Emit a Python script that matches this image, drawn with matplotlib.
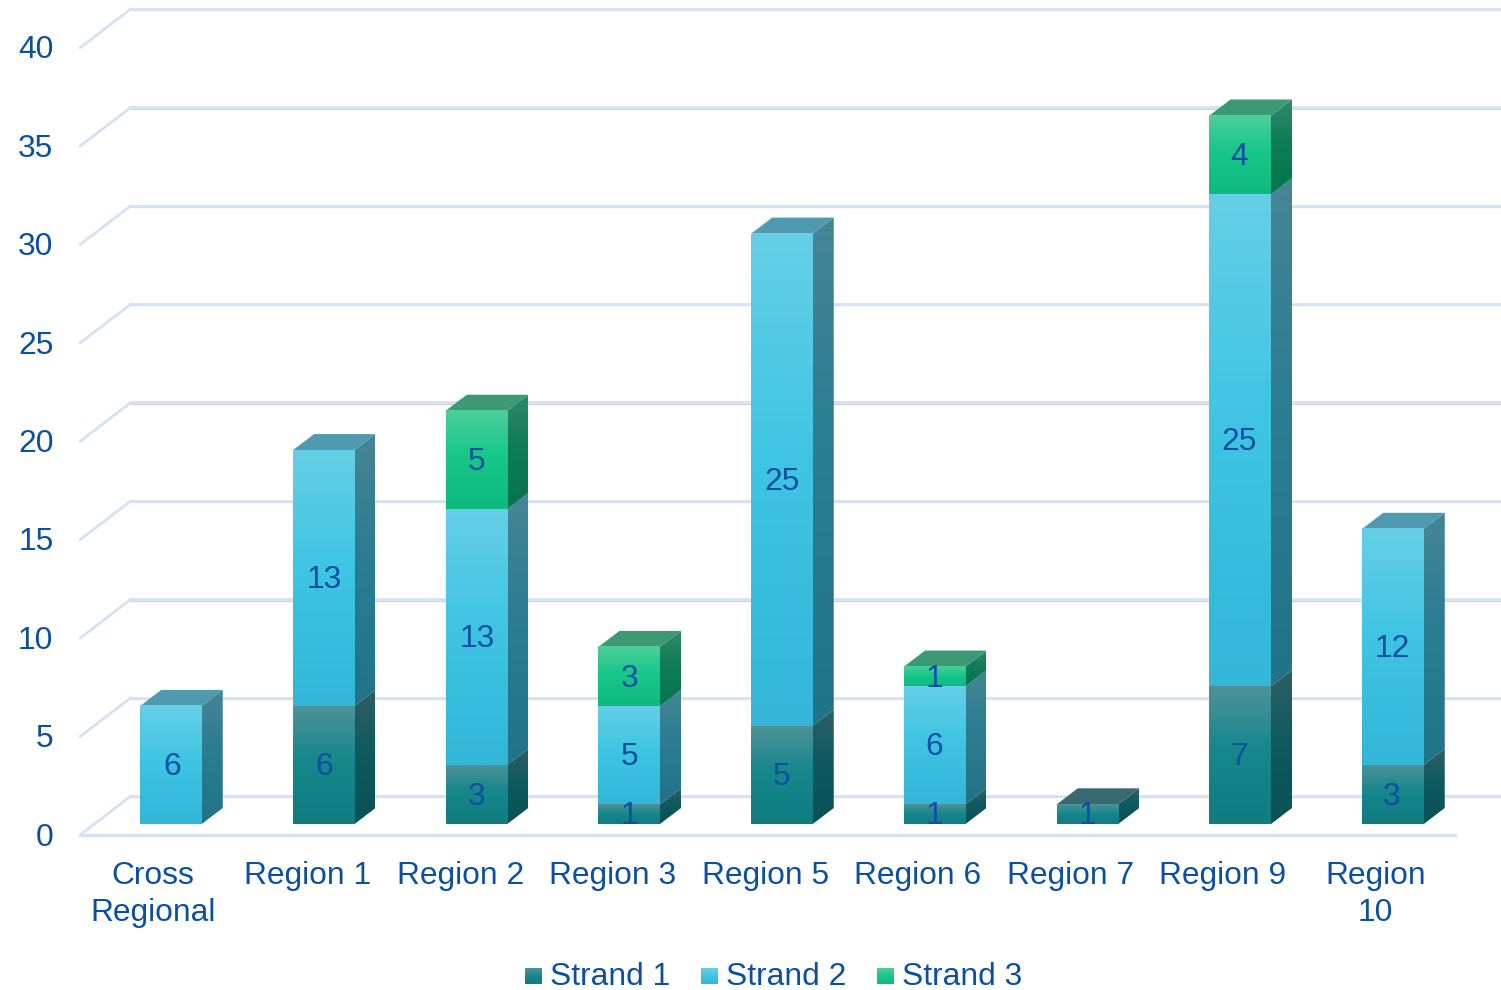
import numpy as np
import matplotlib
matplotlib.use('Agg')
import matplotlib.pyplot as plt
from matplotlib.colors import LinearSegmentedColormap
from matplotlib.patches import Polygon

plt.rcParams['font.family'] = ['Liberation Sans', 'DejaVu Sans']

regions = ['Cross\nRegional', 'Region 1', 'Region 2', 'Region 3', 'Region 5',
           'Region 6', 'Region 7', 'Region 9', 'Region\n10']
strand1 = [0, 6, 3, 1, 5, 1, 1, 7, 3]
strand2 = [6, 13, 13, 5, 25, 6, 0, 25, 12]
strand3 = [0, 0, 5, 3, 0, 1, 0, 4, 0]
names = ['Strand 1', 'Strand 2', 'Strand 3']
yticks = [0, 5, 10, 15, 20, 25, 30, 35, 40]

front_cols = [['#4f9299', '#16888c', '#0f7c80'],
              ['#66cfe7', '#3fc5e3', '#33b6d8'],
              ['#4ccf99', '#18c78a', '#0eb97f']]
side_cols = [['#2f5e64', '#0f5a5f', '#0a5155'],
             ['#468595', '#2b7d92', '#217488'],
             ['#33896a', '#0e7c57', '#06744e']]
top_cols = ['#3a6a70', '#4f9aaf', '#3b9a72']
text_col = '#0b4fa3'
fs = 22.9

W, H = 1501, 990
xstep, ystep = 152.75, 19.68
x0, y0 = 171, 824     # pixel of first bar centre, value 0
fig = plt.figure(figsize=(W / 100, H / 100), dpi=100)
ax = fig.add_axes([0, 0, 1, 1])
ax.axis('off')


def px(x, y):
    return (x - x0) / xstep, (y0 - y) / ystep


bw = 61.5 / xstep
dx, dy = 21 / xstep, 16 / ystep


def grad(cols, box, clip=None, z=3):
    cm = LinearSegmentedColormap.from_list('g', [(0, cols[0]), (0.45, cols[1]), (1, cols[2])])
    im = ax.imshow(np.linspace(0, 1, 256).reshape(-1, 1), cmap=cm, aspect='auto',
                   extent=box, origin='upper', zorder=z, interpolation='bilinear')
    if clip is not None:
        clip.set_transform(ax.transData)
        im.set_clip_path(clip)


# walls and floor
for v in yticks:
    xa, ya = px(80, 835 - ystep * v)
    xb, yb = px(131, 796 - ystep * v)
    xc, yc = px(1501, 796 - ystep * v)
    ax.plot([xa, xb], [ya, yb], color='#d3e3f5', lw=2.0, zorder=1, solid_capstyle='round')
    ax.plot([xb, xc], [yb - 0.07, yc - 0.07], color='#d4d4d4', lw=0.9, zorder=1)
    ax.plot([xb, xc], [yb, yc], color='#d3e3f5', lw=2.0, zorder=1)
    ax.text(px(53.5, 0)[0], px(0, 834 - ystep * v)[1], str(v), ha='right', va='center_baseline',
            fontsize=fs, color=text_col)
xa, ya = px(80, 835)
xb = px(1455, 0)[0]
ax.plot([xa, xb], [ya, ya], color='#d3e3f5', lw=2.4, zorder=1)

# stacked bars
for i in range(len(regions)):
    base = 0
    segs = [strand1[i], strand2[i], strand3[i]]
    last = max(k for k in range(3) if segs[k] > 0)
    for k, v in enumerate(segs):
        if v == 0:
            continue
        l, r = i - bw / 2, i + bw / 2
        t = base + v
        # right side
        side = Polygon([(r, base), (r + dx, base + dy), (r + dx, t + dy), (r, t)], closed=True)
        grad(side_cols[k], (r, r + dx, base, t + dy), side)
        if k == last:
            ax.add_patch(Polygon([(l, t), (r, t), (r + dx, t + dy), (l + dx, t + dy)],
                                 closed=True, fc=top_cols[k], ec='none', zorder=3))
        # front
        grad(front_cols[k], (l, r, base, t), z=4)
        ax.text(px(172 + 152.5 * i, 0)[0], base + v / 2 + 0.07, str(v), ha='center', va='center_baseline',
                fontsize=fs, color=text_col, zorder=5)
        base = t
    cx = 155.5 + 152.5 * i - (2.5 if i == 0 else 0)
    ax.text(px(cx, 0)[0], px(0, 861)[1], regions[i], ha='center', va='top', fontsize=fs,
            color=text_col, linespacing=1.29)

# legend
lx = [525, 701, 877]
for k, n in enumerate(names):
    a, b = px(lx[k], 984)
    c, d = px(lx[k] + 17, 968)
    cm = LinearSegmentedColormap.from_list('l', front_cols[k])
    ax.imshow(np.linspace(0, 1, 64).reshape(-1, 1), cmap=cm, aspect='auto',
              extent=(a, c, b, d), origin='upper', zorder=3)
    ax.text(px(lx[k] + 25, 0)[0], px(0, 973.5)[1], n, ha='left', va='center_baseline',
            fontsize=fs, color=text_col)

ax.set_xlim(px(0, 0)[0], px(W, 0)[0])
ax.set_ylim(px(0, H)[1], px(0, 0)[1])
fig.savefig('out.png', dpi=100)
